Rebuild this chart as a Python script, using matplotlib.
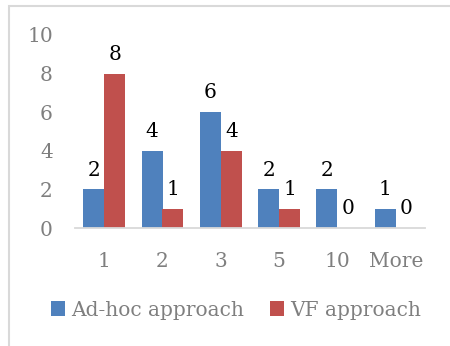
import matplotlib.pyplot as plt
import numpy as np
from matplotlib.patches import Rectangle

# Histogram counts per bin for the two approaches
bins = ['1', '2', '3', '5', '10', 'More']
adhoc_counts = [2, 4, 6, 2, 2, 1]
vf_counts = [8, 1, 4, 1, 0, 0]

plt.rcParams['font.family'] = 'DejaVu Serif'
plt.rcParams['font.size'] = 14.5

fig = plt.figure(figsize=(4.5, 3.46), dpi=100)
ax = fig.add_axes([75 / 450, 1 - 228 / 346, 350 / 450, 193 / 346])

x = np.arange(len(bins))
w = 0.36
b1 = ax.bar(x - w / 2, adhoc_counts, w, color='#4F81BD', label='Ad-hoc approach')
b2 = ax.bar(x + w / 2, vf_counts, w, color='#C0504D', label='VF approach')

# value labels over each bar
for bars, vals in ((b1, adhoc_counts), (b2, vf_counts)):
    for rect, v in zip(bars, vals):
        ax.annotate(str(v), (rect.get_x() + rect.get_width() / 2, v),
                    xytext=(0, 7), textcoords='offset points',
                    ha='center', va='bottom', color='black')

ax.set_xlim(-0.5, len(bins) - 0.5)
ax.set_ylim(0, 10)
ax.set_yticks(range(0, 11, 2))
ax.set_xticks(x)
ax.set_xticklabels(bins)

for s in ('top', 'right', 'left'):
    ax.spines[s].set_visible(False)
ax.spines['bottom'].set_color('#d9d9d9')
ax.spines['bottom'].set_linewidth(1.3)
ax.tick_params(axis='both', length=0, colors='#7f7f7f')
ax.tick_params(axis='y', pad=16)
ax.tick_params(axis='x', pad=17)

fig.legend(loc='center', bbox_to_anchor=(236 / 450, 1 - 310 / 346), ncol=2,
           frameon=False, handlelength=0.7, handleheight=0.7,
           handletextpad=0.3, columnspacing=1.3, labelcolor='#7f7f7f')

# chart area outline
fig.patches.append(Rectangle((9 / 450, -0.1), 1.2, 1.1 - 6 / 346,
                             transform=fig.transFigure, fill=False,
                             edgecolor='#d9d9d9', linewidth=1.5))

fig.savefig('out.png', dpi=100)
